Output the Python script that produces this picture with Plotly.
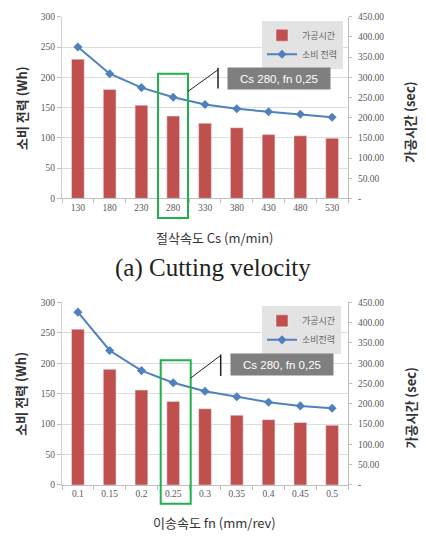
import plotly.graph_objects as go

# ---------------- data ----------------
cs_categories = ["130", "180", "230", "280", "330", "380", "430", "480", "530"]
cs_time_sec = [345, 270, 231, 204, 186, 175, 158, 155, 149]      # 가공시간 (sec)
cs_power_wh = [250, 206, 183, 167, 155, 148, 143, 139, 134]      # 소비 전력 (Wh)

fn_categories = ["0.1", "0.15", "0.2", "0.25", "0.3", "0.35", "0.4", "0.45", "0.5"]
fn_time_sec = [384, 285, 234, 206, 188, 172, 161, 154, 147]
fn_power_wh = [284, 221, 188, 168, 154, 145, 136, 130, 126]

left_ticks = [0, 50, 100, 150, 200, 250, 300]
right_ticks = [0, 50, 100, 150, 200, 250, 300, 350, 400, 450]
right_ticktext = ["-"] + ["%.2f" % v for v in right_ticks[1:]]

W, H = 426, 543
def px(x): return x / W
def py(y): return 1 - y / H

BAR_C = "#c0504d"
LINE_C = "#4f81bd"
GREEN = "#22b04b"
TICK_FONT = dict(family="Liberation Serif", size=9.5, color="#595959")
KR = "Noto Sans CJK KR"

fig = go.Figure()

# top chart
fig.add_trace(go.Bar(x=cs_categories, y=cs_time_sec, name="가공시간", marker_color=BAR_C,
                     xaxis="x", yaxis="y2", legend="legend"))
fig.add_trace(go.Scatter(x=cs_categories, y=cs_power_wh, name="소비 전력", mode="lines+markers",
                         line=dict(color=LINE_C, width=2),
                         marker=dict(symbol="diamond", size=7, color=LINE_C),
                         xaxis="x", yaxis="y", legend="legend"))
# bottom chart
fig.add_trace(go.Bar(x=fn_categories, y=fn_time_sec, name="가공시간", marker_color=BAR_C,
                     xaxis="x2", yaxis="y4", legend="legend2"))
fig.add_trace(go.Scatter(x=fn_categories, y=fn_power_wh, name="소비전력", mode="lines+markers",
                         line=dict(color=LINE_C, width=2),
                         marker=dict(symbol="diamond", size=7, color=LINE_C),
                         xaxis="x2", yaxis="y3", legend="legend2"))

xdom = [px(62), px(348)]
top_dom = [py(197), py(12)]
bot_dom = [py(489), py(303)]

xcommon = dict(type="category", range=[-0.5, 8.5], tickson="boundaries", ticks="outside",
               ticklen=4, tickcolor="#bfbfbf", showline=True, linecolor="#bfbfbf",
               showgrid=False, tickfont=TICK_FONT, domain=xdom, fixedrange=True)
yleft = dict(range=[0, 300], tickvals=left_ticks, ticks="outside", ticklen=4,
             tickcolor="#bfbfbf", showline=True, linecolor="#d0d0d0", showgrid=True,
             gridcolor="#dcdcdc", gridwidth=1, tickfont=TICK_FONT, zeroline=False)
yright = dict(range=[0, 450], tickvals=right_ticks, ticktext=right_ticktext, ticks="outside",
              ticklen=3, tickcolor="#bfbfbf", showline=True, linecolor="#bfbfbf",
              showgrid=False, tickfont=TICK_FONT, side="right", zeroline=False,
              ticklabelstandoff=4)

leg_common = dict(xanchor="left", yanchor="top", bgcolor="#e3e3e3",
                  font=dict(family=KR, size=9, color="#666"), itemwidth=30,
                  tracegroupgap=0, traceorder="normal")
fig.update_layout(
    width=W, height=H, margin=dict(l=0, r=0, t=0, b=0),
    paper_bgcolor="white", plot_bgcolor="white",
    bargap=0.6,
    xaxis=dict(**xcommon, anchor="y"),
    yaxis=dict(**yleft, domain=top_dom, anchor="x"),
    yaxis2=dict(**yright, overlaying="y", anchor="x"),
    xaxis2=dict(**xcommon, anchor="y3"),
    yaxis3=dict(**yleft, domain=bot_dom, anchor="x2"),
    yaxis4=dict(**yright, overlaying="y3", anchor="x2"),
    legend=dict(x=px(262), y=py(16), **leg_common),
    legend2=dict(x=px(262), y=py(307), **leg_common),
    showlegend=True,
)

ann = []
title_font = dict(family=KR, size=13, color="#333", weight="bold")
def A(**kw):
    d = dict(xref="paper", yref="paper", showarrow=False, xanchor="center", yanchor="middle")
    d.update(kw)
    ann.append(d)

for yc, xt, xty in [(105, "절삭속도 Cs (m/min)", 237), (396, "이송속도 fn (mm/rev)", 527)]:
    A(text="소비 전력 (Wh)", x=px(21), y=py(yc), textangle=-90, font=title_font)
    A(text="가공시간 (sec)", x=px(410), y=py(yc + 15), textangle=-90, font=title_font)
    A(text=xt, x=px(215), y=py(xty), font=dict(family=KR, size=13, color="#333"))

A(text="(a) Cutting velocity", x=0.5, y=py(268),
  font=dict(family="Liberation Serif", size=25, color="#222"))

for cx, cy in [(279, 75), (281.7, 366.7)]:
    A(text="Cs 280, fn 0,25", x=px(cx), y=py(cy), bgcolor="#7f7f7f", borderpad=3,
      width=96, height=15, font=dict(family="Liberation Sans", size=11.5, color="white"))
fig.update_layout(annotations=ann)

shapes = []
# green highlight boxes
for (x0, y0, x1, y1) in [(158, 70, 188, 217), (160.7, 362, 190.7, 508)]:
    shapes.append(dict(type="rect", xref="paper", yref="paper",
                       x0=px(x0), x1=px(x1), y0=py(y1), y1=py(y0),
                       line=dict(color=GREEN, width=2)))
# callout lines
for (ax, ay, bx, by, vy0, vy1) in [(188, 88, 218, 66, 64, 85), (190.7, 380, 220.7, 357, 356, 378)]:
    shapes.append(dict(type="line", xref="paper", yref="paper",
                       x0=px(ax), y0=py(ay), x1=px(bx), y1=py(by),
                       line=dict(color="#222", width=1)))
    shapes.append(dict(type="line", xref="paper", yref="paper",
                       x0=px(bx), y0=py(vy0), x1=px(bx), y1=py(vy1),
                       line=dict(color="#222", width=1.5)))
fig.update_layout(shapes=shapes)

fig.write_html("out.html")
